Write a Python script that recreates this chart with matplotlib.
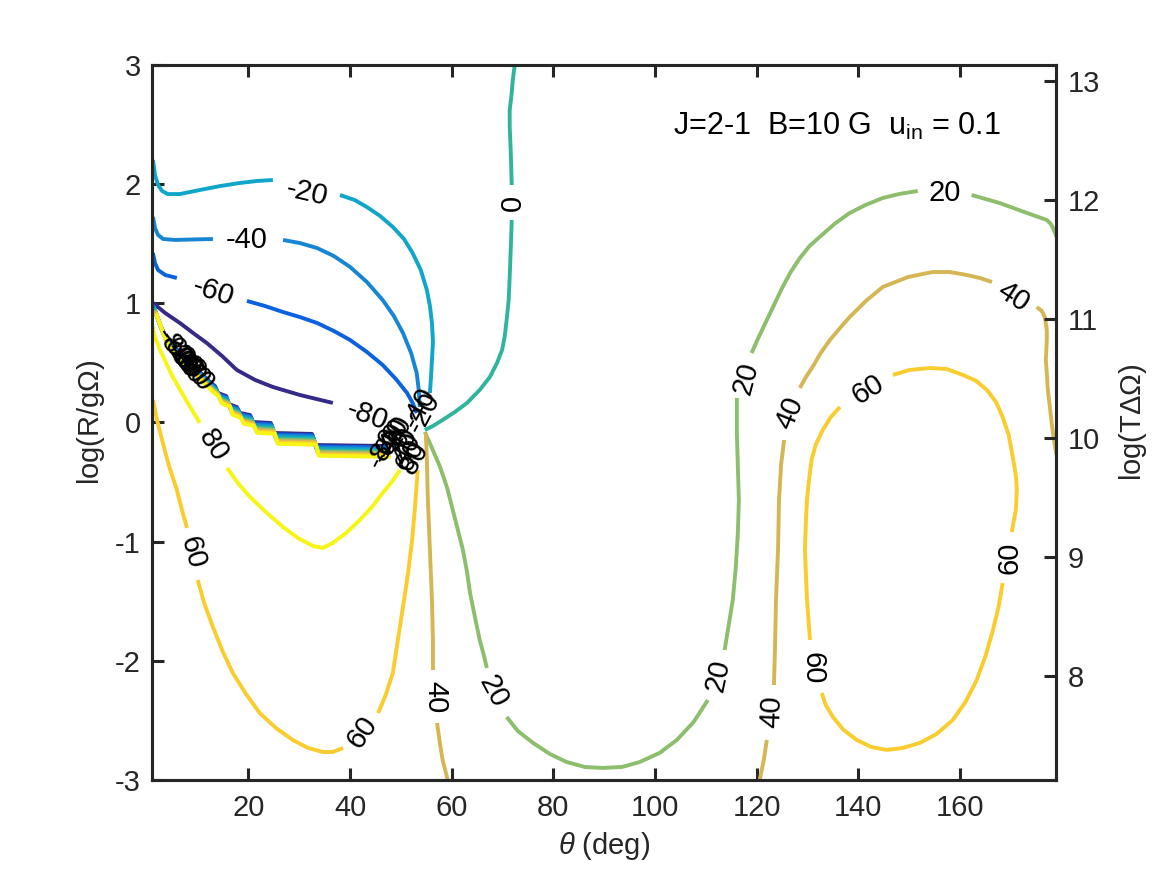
import matplotlib
matplotlib.use('Agg')
import matplotlib.pyplot as plt
import matplotlib.transforms as mtransforms

plt.rcParams['font.family'] = ['Liberation Sans', 'DejaVu Sans']
plt.rcParams['mathtext.fontset'] = 'custom'
plt.rcParams['mathtext.rm'] = 'Liberation Sans'
plt.rcParams['mathtext.it'] = 'Liberation Sans:italic'
plt.rcParams['axes.unicode_minus'] = False

# contour levels shown
levels = [-80, -60, -40, -20, 0, 20, 40, 60, 80]

# contour paths (theta in deg, log(R/gOmega)), split at the labels
th_m20_a = [1.2, 1.6, 2.2, 3.0, 4.1, 6.5, 10.4, 14.4, 18.3, 21.7, 24.8]
lr_m20_a = [2.203, 2.077, 1.993, 1.943, 1.917, 1.917, 1.951, 1.984, 2.010, 2.027, 2.035]
th_m20_b = [38.0, 40.9, 43.3, 45.9, 48.4, 50.6, 52.3, 53.9, 55.1, 55.7, 56.1, 56.3, 56.1, 55.9, 55.7]
lr_m20_b = [1.909, 1.867, 1.808, 1.733, 1.641, 1.540, 1.422, 1.280, 1.112, 0.978, 0.835,
            0.676, 0.525, 0.373, 0.248]

th_m40_a = [1.2, 1.6, 2.2, 3.2, 5.5, 13.0]
lr_m40_a = [1.725, 1.632, 1.574, 1.540, 1.532, 1.540]
th_m40_b = [26.8, 30.1, 33.5, 36.8, 40.0, 43.3, 46.4, 48.6, 50.4, 52.0, 53.1, 53.5, 53.7]
lr_m40_b = [1.532, 1.506, 1.464, 1.397, 1.305, 1.179, 1.028, 0.894, 0.751, 0.583, 0.415,
            0.273, 0.130]

th_m60_a = [1.2, 1.6, 2.2, 3.6, 5.9]
lr_m60_a = [1.422, 1.339, 1.280, 1.238, 1.213]
th_m60_b = [19.7, 23.2, 26.8, 30.1, 33.5, 36.8, 40.0, 43.3, 46.4, 49.0, 51.2, 52.3, 53.1]
lr_m60_b = [1.020, 0.978, 0.927, 0.885, 0.835, 0.768, 0.692, 0.592, 0.483, 0.365, 0.248,
            0.164, 0.080]

th_m80_a = [1.2, 3.6, 6.5, 9.1, 11.8, 14.8, 17.7, 21.3, 24.8, 30.1, 36.6]
lr_m80_a = [1.003, 0.919, 0.835, 0.751, 0.667, 0.558, 0.441, 0.357, 0.298, 0.231, 0.164]

th_0_a = [72.4, 72.0, 71.8, 71.4, 71.4, 71.6, 71.8]
lr_0_a = [3.0, 2.874, 2.765, 2.622, 2.480, 2.287, 1.993]
th_0_b = [71.8, 71.6, 71.4, 71.2, 70.8, 70.4, 69.9, 68.9, 67.5, 65.5, 63.0, 60.6, 58.2, 56.3, 54.7]
lr_0_b = [1.699, 1.448, 1.221, 1.028, 0.860, 0.717, 0.608, 0.499, 0.382, 0.273, 0.164,
          0.088, 0.021, -0.029, -0.063]

th_20_a = [54.7, 56.1, 57.7, 59.1, 60.2, 61.2, 62.2, 63.0, 63.6, 64.6, 65.5, 66.3, 66.9]
lr_20_a = [-0.080, -0.214, -0.373, -0.550, -0.734, -0.902, -1.070, -1.254, -1.431, -1.641,
           -1.825, -1.951, -2.060]
th_20_b = [70.8, 73.0, 76.0, 79.3, 82.6, 86.2, 89.7, 93.5, 97.0, 100.9, 104.3, 107.6, 110.4]
lr_20_b = [-2.471, -2.589, -2.689, -2.782, -2.849, -2.891, -2.899, -2.891, -2.849, -2.773,
           -2.664, -2.513, -2.329]
th_20_c = [113.7, 114.5, 115.3, 115.9, 116.3, 116.5, 116.3, 116.1, 116.1]
lr_20_c = [-1.909, -1.699, -1.489, -1.212, -0.927, -0.650, -0.373, -0.088, 0.206]
th_20_d = [119.0, 120.4, 122.0, 123.6, 125.1, 126.7, 128.5, 130.4, 132.4, 135.3, 138.3,
           141.4, 144.8, 148.1, 151.7]
lr_20_d = [0.583, 0.717, 0.860, 1.003, 1.137, 1.263, 1.380, 1.481, 1.557, 1.666, 1.758,
           1.825, 1.884, 1.918, 1.943]
th_20_e = [162.3, 167.8, 172.7, 177.1, 177.9, 178.5, 179.0]
lr_20_e = [1.909, 1.842, 1.766, 1.699, 1.666, 1.615, 1.560]

th_40_a = [54.9, 55.1, 55.3, 55.7, 56.1, 56.3, 56.3]
lr_40_a = [-0.088, -0.315, -0.650, -1.070, -1.489, -1.825, -2.077]
th_40_b = [57.1, 57.7, 58.2, 59.2]
lr_40_b = [-2.522, -2.700, -2.832, -3.0]
th_40_c = [120.6, 121.4, 122.0]
lr_40_c = [-3.0, -2.832, -2.664]
th_40_d = [123.4, 123.6, 123.8, 124.2, 124.4, 124.8, 125.4]
lr_40_d = [-2.203, -1.909, -1.489, -1.070, -0.650, -0.357, -0.147]
th_40_e = [128.5, 129.7, 131.0, 132.6, 134.4, 136.4, 138.3, 141.5, 144.8, 149.8, 154.6,
           158.0, 161.3, 163.9, 166.3]
lr_40_e = [0.290, 0.382, 0.466, 0.583, 0.692, 0.793, 0.885, 1.020, 1.137, 1.221, 1.263,
           1.263, 1.238, 1.213, 1.179]
th_40_f = [175.1, 176.1, 176.7, 177.1, 177.1, 176.9, 177.1, 177.3, 177.7, 178.1, 178.5, 179.0]
lr_40_f = [0.969, 0.936, 0.885, 0.776, 0.692, 0.524, 0.415, 0.273, 0.130, -0.021, -0.147, -0.273]

th_60_a = [1.2, 2.0, 3.0, 4.3, 5.9, 6.9, 7.9]
lr_60_a = [0.189, 0.021, -0.147, -0.357, -0.566, -0.734, -0.885]
th_60_b = [10.0, 11.4, 13.0, 14.8, 16.9, 19.5, 22.2, 25.4, 28.7, 31.7, 34.6, 36.6, 38.6]
lr_60_b = [-1.322, -1.531, -1.716, -1.909, -2.102, -2.278, -2.438, -2.564, -2.664, -2.731,
           -2.765, -2.765, -2.731]
th_60_c = [45.5, 47.0, 48.4, 49.4, 50.4, 51.4, 52.2, 52.8, 53.3]
lr_60_c = [-2.438, -2.287, -2.102, -1.825, -1.548, -1.263, -0.986, -0.692, -0.399]
th_60_d = [146.8, 150.1, 154.1, 157.4, 160.6, 163.2, 165.3, 167.1, 168.4, 169.6, 170.4,
           171.0, 171.2, 171.0, 170.2]
lr_60_d = [0.399, 0.441, 0.457, 0.449, 0.399, 0.349, 0.273, 0.172, 0.046, -0.105, -0.290,
           -0.441, -0.566, -0.734, -0.919]
th_60_e = [168.4, 167.6, 166.5, 165.1, 163.3, 161.1, 158.6, 155.4, 152.1, 148.8, 145.6,
           142.5, 139.7, 137.1, 135.0, 133.6, 132.8]
lr_60_e = [-1.347, -1.548, -1.741, -1.951, -2.161, -2.345, -2.496, -2.614, -2.689, -2.731,
           -2.748, -2.723, -2.664, -2.580, -2.471, -2.371, -2.270]
th_60_f = [130.5, 129.9, 129.5, 129.7, 129.9, 130.3, 130.8, 131.6, 133.0, 134.6, 136.4]
lr_60_f = [-1.825, -1.489, -1.070, -0.818, -0.650, -0.483, -0.315, -0.189, -0.063, 0.046, 0.130]

th_80_a = [1.0, 1.6, 2.6, 3.8, 5.1, 7.7, 10.4]
lr_80_a = [0.818, 0.718, 0.608, 0.499, 0.382, 0.189, -0.004]
th_80_b = [15.8, 17.9, 20.3, 23.4, 26.8, 29.7, 32.7, 34.6, 36.6, 39.2, 41.9, 44.3, 46.4, 48.2, 49.8]
lr_80_b = [-0.382, -0.508, -0.625, -0.751, -0.877, -0.969, -1.036, -1.053, -1.011, -0.927,
           -0.818, -0.709, -0.591, -0.499, -0.399]

# stepped band where all levels pile up
th_band = [1.2, 2.6, 4.0, 10.4, 12.4, 13.4, 14.0, 15.6, 16.1, 17.7, 18.3, 20.3,
           20.9, 24.4, 25.0, 32.5, 33.1, 46.8]
lr_band = [0.986, 0.818, 0.692, 0.424, 0.340, 0.306, 0.248, 0.222, 0.155, 0.130,
           0.080, 0.063, 0.004, -0.004, -0.088, -0.096, -0.189, -0.197]

# inline labels: level, theta, logR, rotation
lab_level = [-20, -40, -60, -80, 0, 20, 20, 20, 20, 40, 40, 40, 40, 60, 60, 60, 60, 60, 80]
lab_th = [31.5, 19.7, 13.0, 43.3, 72.0, 68.1, 112.4, 117.8, 157.0, 56.7, 123.0, 126.6,
          170.4, 8.9, 42.3, 169.8, 131.0, 141.9, 13.0]
lab_lr = [1.93, 1.53, 1.10, 0.055, 1.842, -2.26, -2.12, 0.37, 1.926, -2.303, -2.43, 0.08,
          1.053, -1.095, -2.597, -1.137, -2.06, 0.273, -0.189]
lab_rot = [-13, 0, -18, -20, 90, -62, 78, 75, 0, -90, 88, 68, -33, -75, 55, 90, -90, 32, -58]

# piled-up labels at the two ends of the band
clus_l_th = [5.2, 5.8, 6.3, 6.9, 7.4, 8.0, 8.6, 9.3, 10.2]
clus_l_lr = [0.63, 0.60, 0.57, 0.54, 0.52, 0.49, 0.46, 0.43, 0.39]
clus_r_th = [46.5, 47.5, 48.3, 49.0, 49.7, 50.4, 51.1, 51.8, 52.6, 53.6, 54.4]
clus_r_lr = [-0.21, -0.17, -0.13, -0.11, -0.13, -0.17, -0.22, -0.27, -0.30, 0.12, 0.08]
clus_r_txt = ['-80', '-60', '-40', '-20', '0', '20', '40', '60', '80', '-40', '-20']

level_color = {-80: '#352a87', -60: '#0b62e0', -40: '#1686d4', -20: '#0fa6c9',
               0: '#30b59d', 20: '#8cbe6c', 40: '#d5b654', 60: '#fbcc2e', 80: '#f7f514'}

pieces = [
    (-20, th_m20_a, lr_m20_a), (-20, th_m20_b, lr_m20_b),
    (-40, th_m40_a, lr_m40_a), (-40, th_m40_b, lr_m40_b),
    (-60, th_m60_a, lr_m60_a), (-60, th_m60_b, lr_m60_b),
    (-80, th_m80_a, lr_m80_a),
    (0, th_0_a, lr_0_a), (0, th_0_b, lr_0_b),
    (20, th_20_a, lr_20_a), (20, th_20_b, lr_20_b), (20, th_20_c, lr_20_c),
    (20, th_20_d, lr_20_d), (20, th_20_e, lr_20_e),
    (40, th_40_a, lr_40_a), (40, th_40_b, lr_40_b), (40, th_40_c, lr_40_c),
    (40, th_40_d, lr_40_d), (40, th_40_e, lr_40_e), (40, th_40_f, lr_40_f),
    (60, th_60_a, lr_60_a), (60, th_60_b, lr_60_b), (60, th_60_c, lr_60_c),
    (60, th_60_d, lr_60_d), (60, th_60_e, lr_60_e), (60, th_60_f, lr_60_f),
    (80, th_80_a, lr_80_a), (80, th_80_b, lr_80_b),
]

dark = '#262626'
fs = 21
lw = 2.8

fig = plt.figure(figsize=(11.67, 8.75), dpi=100)
ax = fig.add_axes([0.1302, 0.1086, 0.7751, 0.8171])

for level, th, lr in pieces:
    ax.plot(th, lr, color=level_color[level], lw=lw, solid_capstyle='butt',
            solid_joinstyle='round')

# band: same path for every level, shifted a little per level
for i, level in enumerate(levels):
    tr = mtransforms.offset_copy(ax.transData, fig=fig, x=0.5 * i, y=-1.35 * i, units='dots')
    ax.plot(th_band, lr_band, color=level_color[level], lw=lw, transform=tr)

for lev, th, lr, rot in zip(lab_level, lab_th, lab_lr, lab_rot):
    ax.text(th, lr, str(lev), rotation=rot, ha='center', va='center',
            fontsize=fs, rotation_mode='anchor')

for lev, th, lr in zip(levels, clus_l_th, clus_l_lr):
    ax.text(th, lr, str(lev), rotation=-55, ha='center', va='center',
            fontsize=fs, rotation_mode='anchor')
for txt, th, lr in zip(clus_r_txt, clus_r_th, clus_r_lr):
    ax.text(th, lr, txt, rotation=62, ha='center', va='center',
            fontsize=fs, rotation_mode='anchor')

ax.text(103.5, 2.41, r'J=2-1  B=10 G  u$_{\mathrm{in}}$ = 0.1', fontsize=22,
        ha='left', va='baseline')

ax.set_xlim(1, 179)
ax.set_ylim(-3, 3)
ax.set_xticks([20, 40, 60, 80, 100, 120, 140, 160])
ax.set_yticks([-3, -2, -1, 0, 1, 2, 3])
ax.set_xlabel(r'$\theta$ (deg)', fontsize=fs, color=dark, labelpad=6)
ax.set_ylabel(r'log(R/g$\Omega$)', fontsize=fs, color=dark, labelpad=6)
ax.tick_params(axis='x', direction='in', top=True, length=8.5, width=2.2,
               labelsize=fs, colors=dark, pad=10)
ax.tick_params(axis='y', direction='in', right=False, length=8.5, width=2.2,
               labelsize=fs, colors=dark, pad=8)
for sp in ax.spines.values():
    sp.set_linewidth(2.2)
    sp.set_color(dark)

ax2 = ax.twinx()
ax2.set_ylim(7.13, 13.13)
ax2.set_yticks([8, 9, 10, 11, 12, 13])
ax2.set_ylabel(r'log(T$\Delta\Omega$)', fontsize=fs, color=dark, labelpad=12)
ax2.tick_params(axis='y', direction='in', length=8.5, width=2.2,
                labelsize=fs, colors=dark, pad=8)
for sp in ax2.spines.values():
    sp.set_linewidth(2.2)
    sp.set_color(dark)

fig.savefig('out.png', dpi=100)
